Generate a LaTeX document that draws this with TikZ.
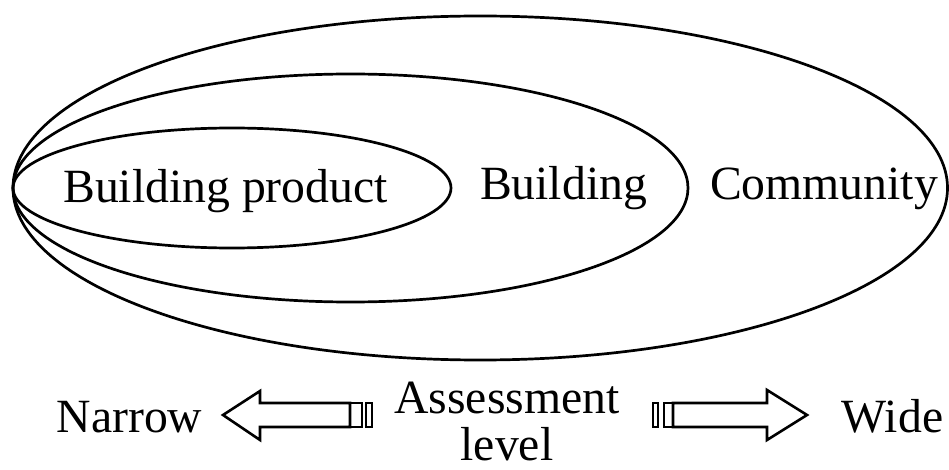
\documentclass[tikz,border=0pt]{standalone}
\usepackage{fontspec}
\setmainfont{Liberation Serif}
\usetikzlibrary{shapes.geometric}
\begin{document}
\begin{tikzpicture}[x=1pt,y=-1pt,
  ring/.style={draw, ellipse, line width=2.7pt, inner sep=0pt, outer sep=0pt},
  lbl/.style={inner sep=0pt, anchor=base, font=\fontsize{47.7}{47}\selectfont},
  blk/.style={draw, line width=2.6pt, line join=miter}]
\useasboundingbox (0,0) rectangle (949,470);
\node[ring, minimum width=934.5pt, minimum height=344pt] (community) at (480.25,188) {};
\node[ring, minimum width=675pt, minimum height=228pt] (building) at (350.5,188) {};
\node[ring, minimum width=438pt, minimum height=120pt] (product) at (232,188) {};
\node[lbl] (tproduct) at (225.5,203) {Building product};
\node[lbl] (tbuilding) at (563.5,200) {Building};
\node[lbl] (tcommunity) at (824,200) {Community};
\node[lbl] (tnarrow) at (129.5,432) {Narrow};
\node[lbl] (twide) at (892.5,432) {Wide};
\node[lbl, align=center] (tlevel) at (507,460) {Assessment\\level};
% left block arrow
\draw[blk] (223,415) -- (260,391) -- (260,403) -- (350,403) -- (350,427) -- (260,427) -- (260,440) -- cycle;
\draw[blk] (350,403) rectangle (362,427);
\draw[blk] (366,403) rectangle (372,427);
% right block arrow
\draw[blk] (653,403) rectangle (658,427);
\draw[blk] (664,403) rectangle (673,427);
\draw[blk] (673,403) -- (767,403) -- (767,390) -- (807,415) -- (767,440) -- (767,427) -- (673,427) -- cycle;
\end{tikzpicture}
\end{document}
